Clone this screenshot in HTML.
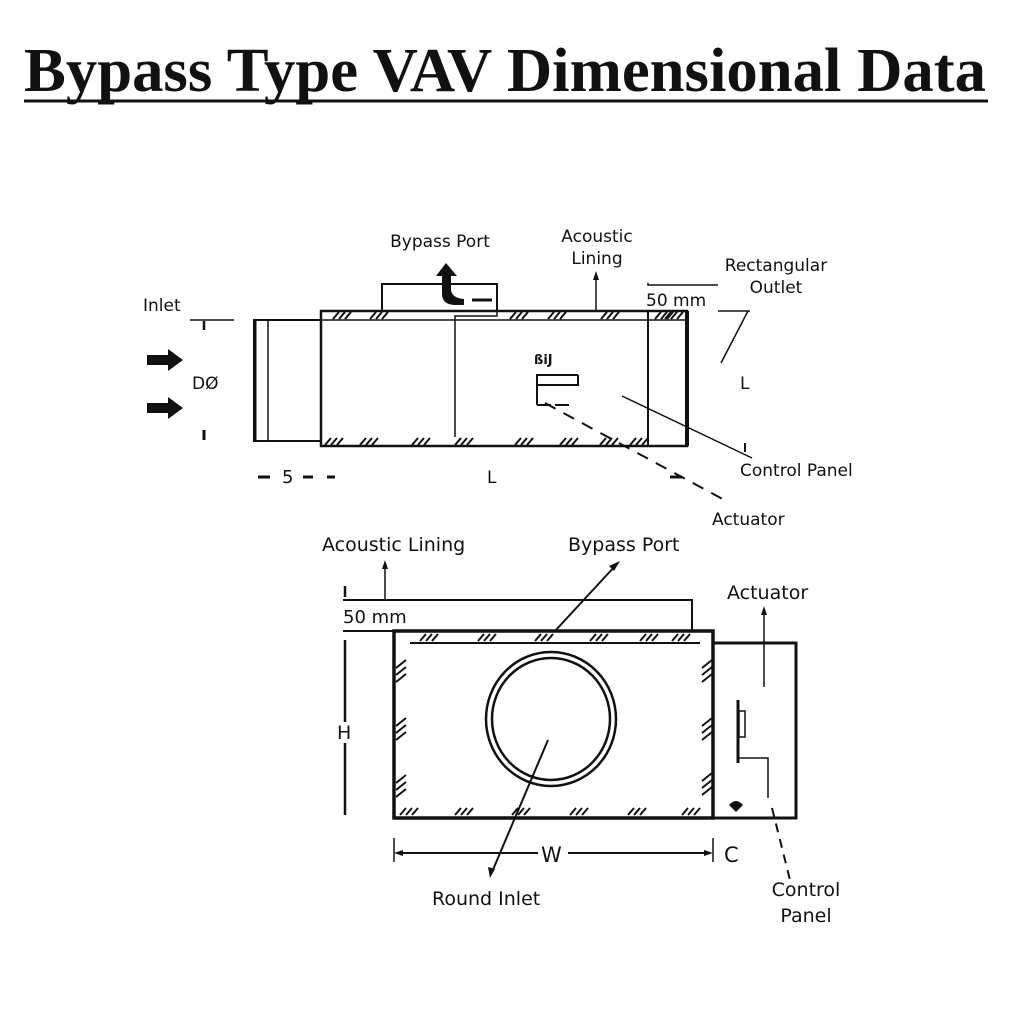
<!DOCTYPE html>
<html><head><meta charset="utf-8"><style>
html,body{margin:0;padding:0;background:#fff;}
svg{display:block;}
text{font-family:"DejaVu Sans","Liberation Sans",sans-serif;fill:#111;}
</style></head><body>
<svg width="1024" height="1024" viewBox="0 0 1024 1024" xmlns="http://www.w3.org/2000/svg">
<defs>
<g id="h3" stroke="#111" stroke-width="2"><line x1="0" y1="7" x2="6" y2="0"/><line x1="6" y1="7" x2="12" y2="0"/><line x1="12" y1="7" x2="18" y2="0"/></g>
<g id="v3" stroke="#111" stroke-width="2"><line x1="0" y1="8" x2="10" y2="0"/><line x1="0" y1="15" x2="10" y2="7"/><line x1="0" y1="22" x2="10" y2="14"/></g>
</defs>
<rect width="1024" height="1024" fill="#fff"/>
<!-- Title -->
<text x="24" y="91" style="font-family:'Liberation Serif',serif" font-weight="bold" font-size="62" textLength="962" lengthAdjust="spacingAndGlyphs">Bypass Type VAV Dimensional Data</text>
<line x1="24" y1="101" x2="988" y2="101" stroke="#111" stroke-width="3"/>

<!-- TOP DIAGRAM -->
<g fill="none" stroke="#111">
<rect x="382" y="284" width="115" height="28" stroke-width="2"/>
<rect x="321" y="311" width="366" height="135" stroke-width="2.5" fill="#fff"/>
<line x1="321" y1="320" x2="687" y2="320" stroke-width="1.5"/>
<line x1="687" y1="311" x2="687" y2="446" stroke-width="4"/>
<line x1="648" y1="311" x2="648" y2="446" stroke-width="2"/>
<rect x="254" y="320" width="67" height="121" stroke-width="2"/>
<line x1="255" y1="320" x2="255" y2="441" stroke-width="3"/>
<line x1="268" y1="320" x2="268" y2="441" stroke-width="1.5"/>
<polyline points="455,437 455,316 497,316 497,311" stroke-width="1.5"/>
<line x1="596" y1="311" x2="596" y2="276" stroke-width="1.5"/>
<polyline points="648,283 648,285 718,285" stroke-width="1.5"/>
<line x1="718" y1="311" x2="750" y2="311" stroke-width="1.5"/>
<line x1="748" y1="311" x2="721" y2="363" stroke-width="1.5"/>
<line x1="622" y1="396" x2="752" y2="458" stroke-width="1.5"/>
<line x1="545" y1="403" x2="728" y2="502" stroke-width="2" stroke-dasharray="12,9"/>
<polyline points="578,375 537,375 537,385 578,385 578,375" stroke-width="2"/>
<line x1="537" y1="385" x2="537" y2="405" stroke-width="2"/>
<line x1="537" y1="405" x2="570" y2="405" stroke-width="2" stroke-dasharray="14,4"/>
<line x1="190" y1="320" x2="234" y2="320" stroke-width="1.5"/>
<line x1="204" y1="321" x2="204" y2="330" stroke-width="2.5"/>
<line x1="204" y1="430" x2="204" y2="440" stroke-width="3"/>
<line x1="472" y1="300" x2="492" y2="300" stroke-width="3"/>
<line x1="745" y1="443" x2="745" y2="452" stroke-width="2"/>
<line x1="258" y1="477" x2="270" y2="477" stroke-width="3"/>
<line x1="303" y1="477" x2="313" y2="477" stroke-width="3"/>
<line x1="327" y1="477" x2="335" y2="477" stroke-width="3"/>
<line x1="670" y1="477" x2="682" y2="477" stroke-width="3"/>
</g>
<g fill="#111">
<path d="M446 263 L436 276 L442 276 L442 294 Q442 304 454 305 L464 305 L464 299 Q452 298 451 290 L451 276 L457 276 Z"/>
<polygon points="147,355 168,355 168,349 183,360 168,371 168,365 147,365"/>
<polygon points="147,403 168,403 168,397 183,408 168,419 168,413 147,413"/>
<polygon points="596,271 593,280 599,280"/>
</g>
<use href="#h3" x="333" y="312"/><use href="#h3" x="370" y="312"/><use href="#h3" x="510" y="312"/><use href="#h3" x="548" y="312"/><use href="#h3" x="601" y="312"/><use href="#h3" x="655" y="312"/><use href="#h3" x="665" y="312"/>
<use href="#h3" x="325" y="438"/><use href="#h3" x="360" y="438"/><use href="#h3" x="412" y="438"/><use href="#h3" x="455" y="438"/><use href="#h3" x="515" y="438"/><use href="#h3" x="560" y="438"/><use href="#h3" x="600" y="438"/><use href="#h3" x="630" y="438"/>
<text x="440" y="247" font-size="17" text-anchor="middle">Bypass Port</text>
<text x="597" y="242" font-size="17" text-anchor="middle">Acoustic</text>
<text x="597" y="264" font-size="17" text-anchor="middle">Lining</text>
<text x="776" y="271" font-size="17" text-anchor="middle">Rectangular</text>
<text x="776" y="293" font-size="17" text-anchor="middle">Outlet</text>
<text x="646" y="306" font-size="17">50 mm</text>
<text x="143" y="311" font-size="17">Inlet</text>
<text x="192" y="389" font-size="17">DØ</text>
<text x="740" y="389" font-size="17">L</text>
<text x="740" y="476" font-size="17">Control Panel</text>
<text x="712" y="525" font-size="17">Actuator</text>
<text x="282" y="483" font-size="18">5</text>
<text x="487" y="483" font-size="17">L</text>
<text x="534" y="364" font-size="13" font-weight="bold">ßiJ</text>

<!-- BOTTOM DIAGRAM -->
<g fill="none" stroke="#111">
<rect x="394" y="631" width="319" height="187" stroke-width="3.5"/>
<line x1="410" y1="643" x2="700" y2="643" stroke-width="2"/>
<polyline points="713,643 796,643 796,818 713,818" stroke-width="3"/>
<ellipse cx="551" cy="719" rx="65" ry="67" stroke-width="2.5"/>
<ellipse cx="551" cy="719" rx="59" ry="61" stroke-width="2.5"/>
<polyline points="343,600 692,600 692,631" stroke-width="2"/>
<line x1="345" y1="586" x2="345" y2="597" stroke-width="2.5"/>
<line x1="343" y1="631" x2="394" y2="631" stroke-width="2"/>
<line x1="385" y1="600" x2="385" y2="566" stroke-width="1.5"/>
<line x1="555" y1="631" x2="616" y2="565" stroke-width="2"/>
<line x1="345" y1="640" x2="345" y2="722" stroke-width="2.5"/>
<line x1="345" y1="743" x2="345" y2="815" stroke-width="2.5"/>
<line x1="394" y1="838" x2="394" y2="862" stroke-width="1.5"/>
<line x1="713" y1="838" x2="713" y2="862" stroke-width="1.5"/>
<line x1="398" y1="853" x2="538" y2="853" stroke-width="2"/>
<line x1="568" y1="853" x2="710" y2="853" stroke-width="2"/>
<line x1="548" y1="740" x2="492" y2="872" stroke-width="2"/>
<line x1="764" y1="687" x2="764" y2="612" stroke-width="1.5"/>
<line x1="738" y1="700" x2="738" y2="763" stroke-width="3"/>
<rect x="739" y="711" width="6" height="26" stroke-width="1.5"/>
<polyline points="739,758 768,758 768,798" stroke-width="1.5"/>
<line x1="772" y1="808" x2="790" y2="880" stroke-width="2" stroke-dasharray="9,7"/>
</g>
<g fill="#111">
<polygon points="385,560 382,569 388,569"/>
<polygon points="620,561 609,566 614,571"/>
<polygon points="490,878 488,867 495,869"/>
<polygon points="764,606 761,615 767,615"/>
<polygon points="394,853 403,850 403,856"/>
<polygon points="713,853 704,850 704,856"/>
<path d="M736 812 L729 805 Q736 797 743 805 Z"/>
</g>
<use href="#h3" x="420" y="634"/><use href="#h3" x="478" y="634"/><use href="#h3" x="535" y="634"/><use href="#h3" x="590" y="634"/><use href="#h3" x="640" y="634"/><use href="#h3" x="672" y="634"/>
<use href="#h3" x="400" y="808"/><use href="#h3" x="455" y="808"/><use href="#h3" x="512" y="808"/><use href="#h3" x="570" y="808"/><use href="#h3" x="628" y="808"/><use href="#h3" x="682" y="808"/>
<use href="#v3" x="396" y="660"/><use href="#v3" x="396" y="718"/><use href="#v3" x="396" y="775"/>
<use href="#v3" x="702" y="660"/><use href="#v3" x="702" y="718"/><use href="#v3" x="702" y="773"/>
<text x="322" y="551" font-size="19">Acoustic Lining</text>
<text x="568" y="551" font-size="19">Bypass Port</text>
<text x="727" y="599" font-size="19">Actuator</text>
<text x="343" y="623" font-size="18">50 mm</text>
<text x="337" y="739" font-size="19">H</text>
<text x="541" y="862" font-size="21">W</text>
<text x="724" y="862" font-size="21">C</text>
<text x="432" y="905" font-size="19">Round Inlet</text>
<text x="806" y="896" font-size="19" text-anchor="middle">Control</text>
<text x="806" y="922" font-size="19" text-anchor="middle">Panel</text>
</svg>
</body></html>
